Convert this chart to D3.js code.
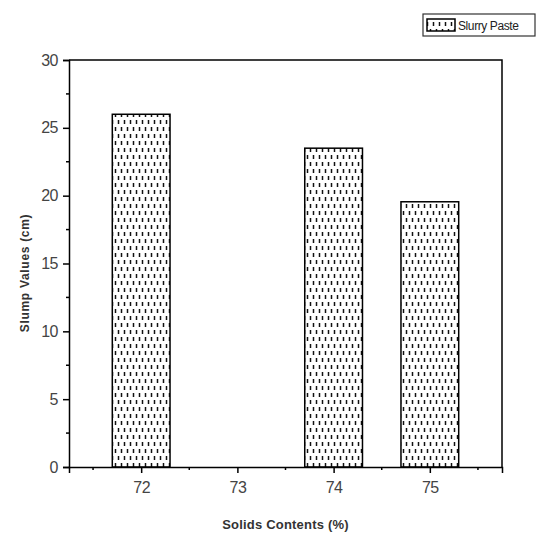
<!DOCTYPE html>
<html>
<head>
<meta charset="utf-8">
<script src="https://cdn.jsdelivr.net/npm/d3@7"></script>
<style>
  body { margin: 0; background: #fff; }
  text { font-family: Arial, "Liberation Sans", sans-serif; }
</style>
</head>
<body>
<div id="chart"></div>
<script>
const categories = [72, 73, 74, 75]
const slumpValues = [26, null, 23.5, 19.55]
const yTicks = [0, 5, 10, 15, 20, 25, 30]
const seriesName = 'Slurry Paste'

const width = 550
const height = 545
const margin = {left: 69, top: 60, right: 48, bottom: 78}

const svg = d3.select('#chart').append('svg')
  .attr('width', width)
  .attr('height', height)

// dashed fill like Origin's pattern
const defs = svg.append('defs')
const pat = defs.append('pattern')
  .attr('id', 'dash')
  .attr('patternUnits', 'userSpaceOnUse')
  .attr('width', 6)
  .attr('height', 14)
pat.append('rect').attr('width', 6).attr('height', 14).attr('fill', '#fff')
pat.append('line').attr('x1', 1.5).attr('x2', 1.5).attr('y1', 1).attr('y2', 5)
  .attr('stroke', '#111').attr('stroke-width', 1.5)
pat.append('line').attr('x1', 4.5).attr('x2', 4.5).attr('y1', 8).attr('y2', 12)
  .attr('stroke', '#111').attr('stroke-width', 1.5)

const x = d3.scaleLinear()
  .domain([71.25, 75.75])
  .range([margin.left, width - margin.right])
const y = d3.scaleLinear()
  .domain([0, 30])
  .range([height - margin.bottom, margin.top])

const barWidth = x(72.6) - x(72)

svg.append('g')
  .selectAll('rect')
  .data(categories.map((c, i) => ({c, v: slumpValues[i]})).filter((d) => d.v != null))
  .join('rect')
    .attr('x', (d) => x(d.c) - barWidth / 2)
    .attr('y', (d) => y(d.v))
    .attr('width', barWidth)
    .attr('height', (d) => y(0) - y(d.v))
    .attr('fill', 'url(#dash)')
    .attr('stroke', '#000')
    .attr('stroke-width', 1.5)

// frame top + right
svg.append('path')
  .attr('d', `M${x.range()[0]},${y(30)}H${x.range()[1]}V${y(0)}`)
  .attr('fill', 'none')
  .attr('stroke', '#000')
  .attr('stroke-width', 1.5)

// x axis
const xAxis = svg.append('g')
  .attr('transform', `translate(0,${y(0)})`)
  .call(d3.axisBottom(x).tickValues(categories).tickFormat(d3.format('d')).tickSize(6).tickPadding(9))
xAxis.append('g')
  .selectAll('line')
  .data([71.5, 72.5, 73.5, 74.5, 75.5])
  .join('line')
    .attr('x1', (d) => x(d)).attr('x2', (d) => x(d))
    .attr('y1', 0).attr('y2', 3)
    .attr('stroke', '#000')
    .attr('stroke-width', 1.5)

// y axis
const yAxis = svg.append('g')
  .attr('transform', `translate(${x.range()[0]},0)`)
  .call(d3.axisLeft(y).tickValues(yTicks).tickSize(6).tickPadding(5))
yAxis.append('g')
  .selectAll('line')
  .data([2.5, 7.5, 12.5, 17.5, 22.5, 27.5])
  .join('line')
    .attr('y1', (d) => y(d)).attr('y2', (d) => y(d))
    .attr('x1', 0).attr('x2', -3)
    .attr('stroke', '#000')
    .attr('stroke-width', 1.5)

svg.selectAll('.domain').attr('stroke', '#000').attr('stroke-width', 1.5)
svg.selectAll('.tick line').attr('stroke', '#000').attr('stroke-width', 1.5)
svg.selectAll('.tick text')
  .attr('font-size', 16)
  .attr('fill', '#444')
  .attr('letter-spacing', -0.5)
  .attr('font-family', 'Arial, "Liberation Sans", sans-serif')

svg.append('text')
  .attr('x', x(73.5))
  .attr('y', 529)
  .attr('text-anchor', 'middle')
  .attr('font-size', 13)
  .attr('font-weight', 'bold')
  .attr('fill', '#333')
  .attr('letter-spacing', 0.2)
  .text('Solids Contents (%)')

svg.append('text')
  .attr('transform', `translate(29,273) rotate(-90)`)
  .attr('text-anchor', 'middle')
  .attr('font-size', 12)
  .attr('font-weight', 'bold')
  .attr('fill', '#333')
  .attr('letter-spacing', 0.7)
  .text('Slump Values (cm)')

// legend
const legend = svg.append('g').attr('transform', 'translate(423,14)')
legend.append('rect')
  .attr('width', 112).attr('height', 22)
  .attr('fill', '#fff').attr('stroke', '#333').attr('stroke-width', 1.2)
legend.append('rect')
  .attr('x', 4).attr('y', 5).attr('width', 28).attr('height', 12)
  .attr('fill', 'url(#dash)')
  .attr('stroke', '#000').attr('stroke-width', 1.5)
legend.append('text')
  .attr('x', 35).attr('y', 15.5)
  .attr('font-size', 12)
  .attr('fill', '#222')
  .attr('letter-spacing', -0.4)
  .text(seriesName)
</script>
</body>
</html>
